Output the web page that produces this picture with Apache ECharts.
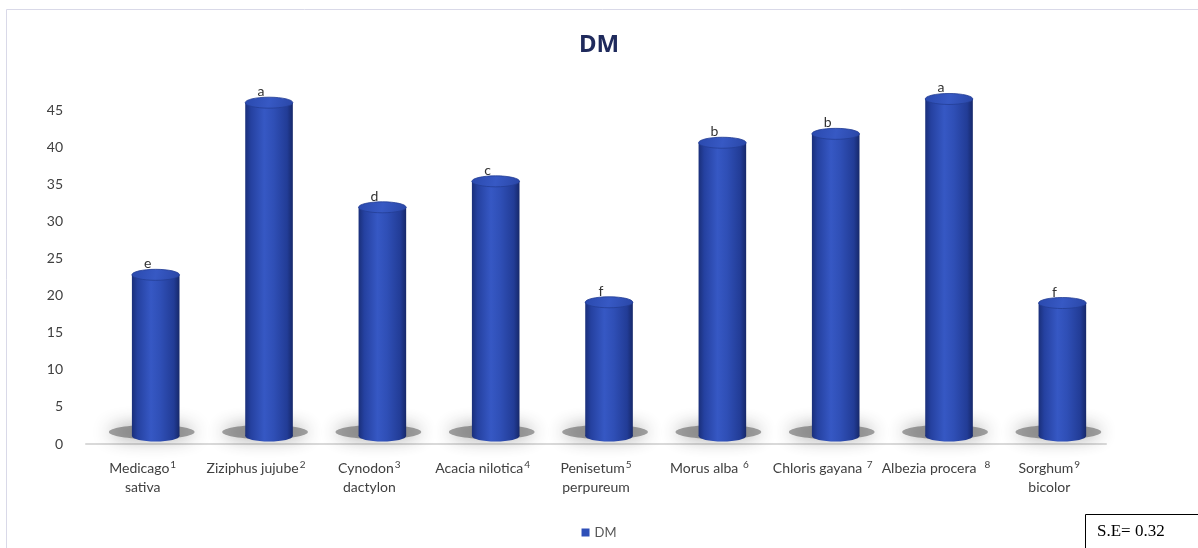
<!DOCTYPE html>
<html>
<head>
<meta charset="utf-8">
<script src="https://cdn.jsdelivr.net/npm/echarts@6/dist/echarts.min.js"></script>
<style>
  html, body { margin: 0; padding: 0; background: #ffffff; }
  #chart { width: 1198px; height: 548px; }
</style>
</head>
<body>
<div id="chart"></div>
<script>
// Plant species (first line, superscript note, second line)
const nameMain = ['Medicago', 'Ziziphus jujube', 'Cynodon', 'Acacia nilotica', 'Penisetum', 'Morus alba ', 'Chloris gayana ', 'Albezia procera  ', 'Sorghum'];
const nameSup = ['1', '2', '3', '4', '5', '6', '7', '8', '9'];
const nameSecond = ['sativa', '', 'dactylon', '', 'perpureum', '', '', '', 'bicolor'];

// Dry matter (%) per species and significance letters
const dmValues = [22.8, 46.0, 31.9, 35.4, 19.1, 40.6, 41.8, 46.5, 19.0];
const sigLetters = ['e', 'a', 'd', 'c', 'f', 'b', 'b', 'a', 'f'];

// Y-axis ticks
const yTicks = [0, 5, 10, 15, 20, 25, 30, 35, 40, 45];

const chart = echarts.init(document.getElementById('chart'));

const FONT = 'Lato, "Open Sans", sans-serif';

function renderCylinder(params, api) {
  const i = params.dataIndex;
  const top = api.coord([api.value(0), api.value(1)]);
  const base = api.coord([api.value(0), 0]);
  const band = api.size([1, 0])[0];
  const cx = top[0] + band * 0.115;
  const rx = band * 0.21;
  const ry = 5.5;
  const yTop = top[1];
  const yBot = base[1] - 8;

  const bodyGrad = new echarts.graphic.LinearGradient(0, 0, 1, 0, [
    { offset: 0, color: '#1a2f7a' },
    { offset: 0.12, color: '#2541a0' },
    { offset: 0.4, color: '#3658c4' },
    { offset: 0.6, color: '#2f4fb6' },
    { offset: 0.88, color: '#223c96' },
    { offset: 1, color: '#16286a' }
  ]);
  const topGrad = new echarts.graphic.LinearGradient(0, 0, 1, 1, [
    { offset: 0, color: '#2a49ad' },
    { offset: 0.5, color: '#3759c4' },
    { offset: 1, color: '#2946a6' }
  ]);

  return {
    type: 'group',
    children: [
      {
        // soft floor shadow under each cylinder
        type: 'ellipse',
        shape: { cx: cx - 4, cy: yBot - 4, rx: rx * 1.8, ry: 7 },
        style: {
          fill: 'rgba(75,75,75,0.5)',
          shadowBlur: 18,
          shadowColor: 'rgba(50,50,50,0.95)'
        },
        silent: true
      },
      {
        type: 'ellipse',
        shape: { cx: cx, cy: yBot, rx: rx, ry: ry },
        style: { fill: bodyGrad }
      },
      {
        type: 'rect',
        shape: { x: cx - rx, y: yTop, width: rx * 2, height: yBot - yTop },
        style: { fill: bodyGrad }
      },
      {
        type: 'ellipse',
        shape: { cx: cx, cy: yTop, rx: rx, ry: ry },
        style: { fill: topGrad, stroke: '#233d94', lineWidth: 0.8 }
      },
      {
        type: 'text',
        style: {
          text: sigLetters[i],
          x: cx - 8,
          y: yTop - ry + 1.5,
          align: 'center',
          verticalAlign: 'bottom',
          fontSize: 14,
          fontFamily: FONT,
          fill: '#333333'
        }
      }
    ]
  };
}

const option = {
  backgroundColor: '#ffffff',
  animation: false,
  title: {
    text: 'DM',
    left: 'center',
    top: 28,
    textStyle: { fontSize: 24, fontWeight: 'bold', color: '#1f2a5c', fontFamily: '"Noto Sans", sans-serif' }
  },
  legend: {
    bottom: 4,
    left: 'center',
    icon: 'rect',
    itemWidth: 8,
    itemHeight: 8,
    itemGap: 6,
    textStyle: { fontSize: 13, color: '#555555', fontFamily: FONT },
    data: ['DM']
  },
  grid: { left: 86, right: 92, top: 73, bottom: 104, containLabel: false },
  xAxis: {
    type: 'category',
    data: nameMain,
    axisLine: { show: true, lineStyle: { color: '#d9d9d9', width: 2 } },
    axisTick: { show: false },
    axisLabel: {
      interval: 0,
      margin: 15,
      lineHeight: 19,
      formatter: function (v, idx) {
        let s = '{n|' + nameMain[idx] + '}{s|' + nameSup[idx] + '}';
        if (nameSecond[idx]) s += '\n{n|' + nameSecond[idx] + '}';
        return s;
      },
      rich: {
        n: { fontSize: 14, color: '#404040', fontFamily: FONT, lineHeight: 19 },
        s: { fontSize: 10, color: '#404040', fontFamily: FONT, padding: [0, 0, 7, 1], lineHeight: 19 }
      }
    }
  },
  yAxis: {
    type: 'value',
    min: yTicks[0],
    max: 50,
    interval: 5,
    axisLine: { show: false },
    axisTick: { show: false },
    splitLine: { show: false },
    axisLabel: {
      showMaxLabel: false,
      margin: 23,
      fontSize: 14,
      color: '#404040',
      fontFamily: FONT,
      formatter: function (v) { return yTicks.indexOf(v) >= 0 ? String(v) : ''; }
    }
  },
  series: [
    {
      name: 'DM',
      type: 'custom',
      itemStyle: { color: '#2e4fb8' },
      renderItem: renderCylinder,
      data: dmValues.map(function (v, i) { return [i, v]; }),
      encode: { x: 0, y: 1 },
      z: 2
    }
  ],
  graphic: [
    {
      type: 'rect',
      shape: { x: 6.5, y: 9.5, width: 1200, height: 600 },
      style: { fill: 'none', stroke: '#d9d9e8', lineWidth: 1 },
      silent: true,
      z: -10
    },
    {
      type: 'rect',
      shape: { x: 1085.5, y: 514.5, width: 130, height: 60 },
      style: { fill: '#ffffff', stroke: '#000000', lineWidth: 1 },
      z: 10
    },
    {
      type: 'text',
      style: {
        text: 'S.E= 0.32',
        x: 1097,
        y: 532,
        verticalAlign: 'middle',
        fontSize: 17,
        fontFamily: '"Liberation Serif", "DejaVu Serif", serif',
        fill: '#000000'
      },
      z: 11
    }
  ]
};

chart.setOption(option);
</script>
</body>
</html>
